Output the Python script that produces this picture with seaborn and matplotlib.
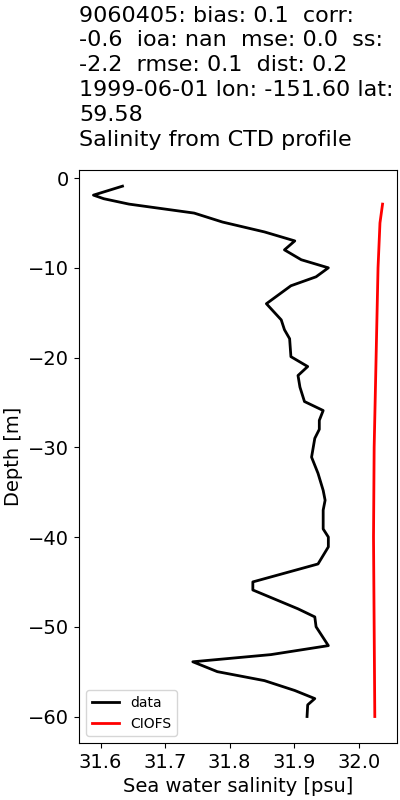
import matplotlib
matplotlib.use("Agg")
import matplotlib.pyplot as plt
import seaborn as sns
import pandas as pd

# Observed CTD profile
data_depth = [-0.9, -1.9, -2.3, -2.9, -3.9, -4.9, -6.0, -7.0, -8.0, -9.1, -10.0, -11.0,
              -12.0, -14.0, -15.8, -16.9, -17.9, -19.9, -21.0, -22.0, -23.3, -24.9, -25.9,
              -27.0, -28.0, -29.0, -31.1, -32.9, -34.8, -35.9, -37.0, -39.1, -40.0, -41.1,
              -43.0, -45.0, -45.9, -48.0, -48.9, -50.0, -52.1, -53.1, -53.9, -55.0, -56.0,
              -57.1, -58.0, -58.7, -60.0]
data_sal = [31.634, 31.589, 31.605, 31.644, 31.745, 31.789, 31.854, 31.901, 31.885, 31.911,
            31.953, 31.934, 31.895, 31.857, 31.880, 31.885, 31.893, 31.895, 31.921, 31.906,
            31.909, 31.916, 31.945, 31.939, 31.939, 31.932, 31.927, 31.937, 31.945, 31.948,
            31.945, 31.945, 31.953, 31.953, 31.937, 31.836, 31.836, 31.906, 31.932, 31.934,
            31.953, 31.864, 31.743, 31.781, 31.854, 31.901, 31.932, 31.921, 31.920]

# Model profile (CIOFS)
model_depth = [-2.9, -5.0, -10.0, -20.0, -30.0, -40.0, -50.0, -60.0]
model_sal = [32.037, 32.033, 32.030, 32.027, 32.024, 32.023, 32.024, 32.025]

title = ("9060405: bias: 0.1  corr:\n-0.6  ioa: nan  mse: 0.0  ss:\n"
         "-2.2  rmse: 0.1  dist: 0.2\n1999-06-01 lon: -151.60 lat:\n59.58\n"
         "Salinity from CTD profile")

df_data = pd.DataFrame({"sal": data_sal, "depth": data_depth})
df_model = pd.DataFrame({"sal": model_sal, "depth": model_depth})

fig, ax = plt.subplots(figsize=(4, 8), dpi=100)
fig.subplots_adjust(left=0.1975, right=0.9925, top=0.7875, bottom=0.07125)

sns.lineplot(data=df_data, x="sal", y="depth", sort=False, orient="y", estimator=None,
             color="black", linewidth=2, label="data", ax=ax)
sns.lineplot(data=df_model, x="sal", y="depth", sort=False, orient="y", estimator=None,
             color="red", linewidth=2, label="CIOFS", ax=ax)

ax.set_ylim(-62.95, 0.9)
ax.set_xticks([31.6, 31.7, 31.8, 31.9, 32.0])
ax.tick_params(labelsize=14)
ax.set_xlabel("Sea water salinity [psu]", fontsize=14)
ax.set_ylabel("Depth [m]", fontsize=14)
ax.set_title(title, fontsize=16, loc="left", pad=17.5, linespacing=1.3)
ax.legend(loc="lower left", fontsize=10)

fig.savefig("out.png", dpi=100)
